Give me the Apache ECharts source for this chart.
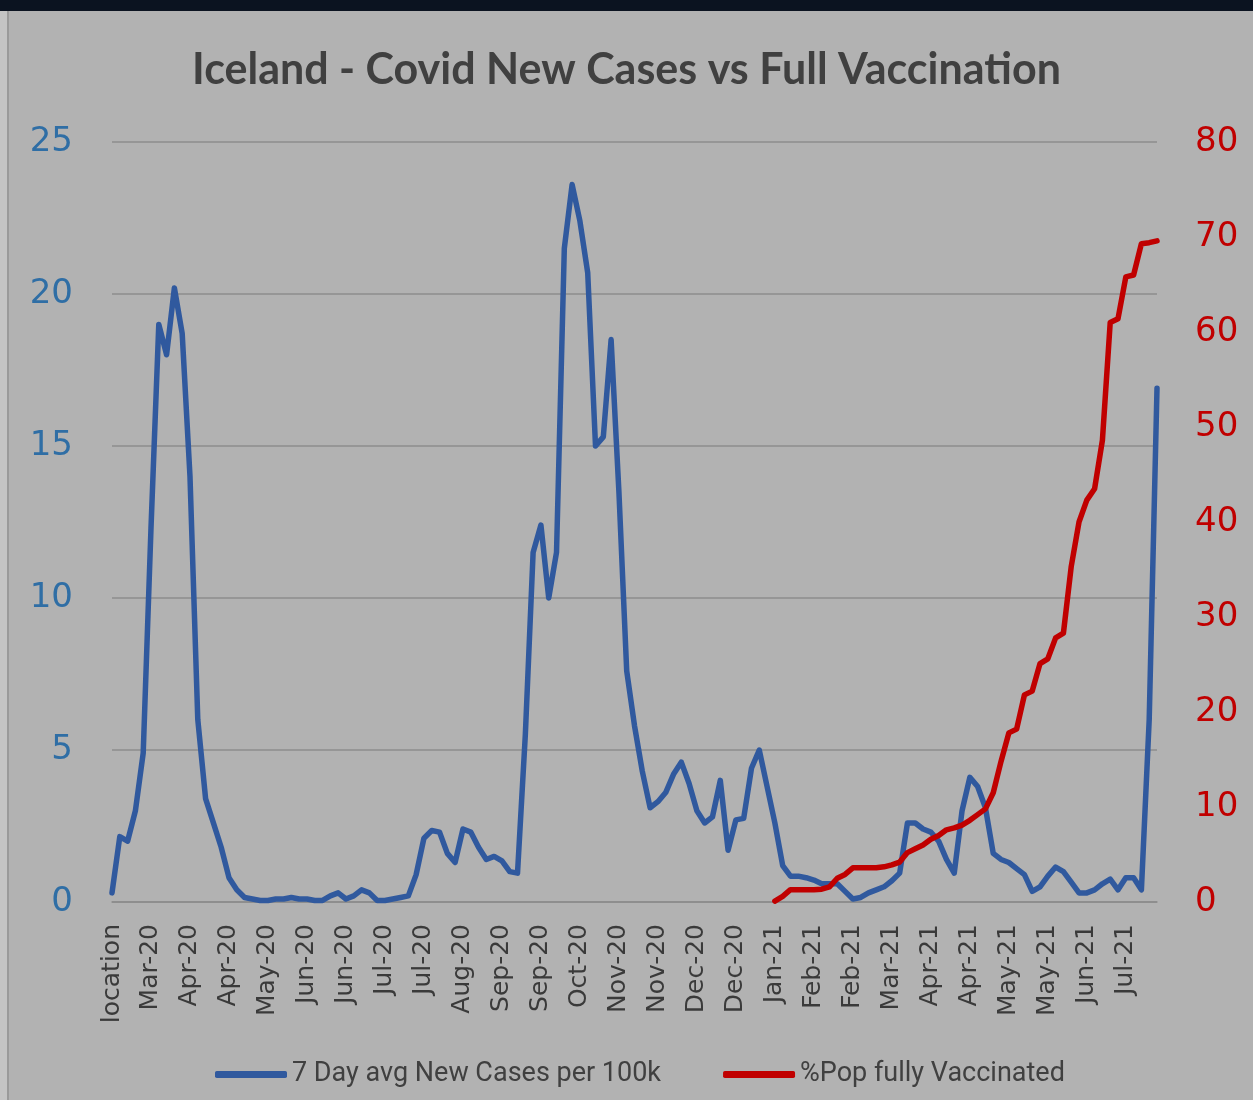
<!DOCTYPE html>
<html>
<head>
<meta charset="utf-8">
<title>Iceland - Covid New Cases vs Full Vaccination</title>
<script src="https://cdn.jsdelivr.net/npm/echarts@6/dist/echarts.min.js"></script>
<style>
  html, body { margin: 0; padding: 0; }
  body { width: 1253px; height: 1100px; background: #b2b2b2; position: relative; overflow: hidden; }
  .topband { position: absolute; left: 0; top: 0; width: 1253px; height: 11px; background: #0b1320; }
  .leftedge { position: absolute; left: 0; top: 11px; width: 7px; height: 1089px; background: #c4c4c4; border-right: 2px solid #9a9a9a; }
  #chart { position: absolute; left: 0; top: 0; width: 1253px; height: 1100px; }
</style>
</head>
<body>
<div class="topband"></div>
<div class="leftedge"></div>
<div id="chart"></div>
<script>
// every 5th category carries a shown label
const tickLabels = ['location', 'Mar-20', 'Apr-20', 'Apr-20', 'May-20', 'Jun-20', 'Jun-20', 'Jul-20', 'Jul-20',
  'Aug-20', 'Sep-20', 'Sep-20', 'Oct-20', 'Nov-20', 'Nov-20', 'Dec-20', 'Dec-20', 'Jan-21', 'Feb-21',
  'Feb-21', 'Mar-21', 'Apr-21', 'Apr-21', 'May-21', 'May-21', 'Jun-21', 'Jul-21']
const pointsPerLabel = 5

// 7 day avg new cases per 100k (left axis)
const newCases = [
  0.3, 2.15, 2.0, 3.0, 4.9, 12.3, 19.0, 18.0, 20.2, 18.7,
  14.0, 6.0, 3.4, 2.6, 1.8, 0.8, 0.4, 0.15, 0.1, 0.05,
  0.05, 0.1, 0.1, 0.15, 0.1, 0.1, 0.05, 0.05, 0.2, 0.3,
  0.1, 0.2, 0.4, 0.3, 0.05, 0.05, 0.1, 0.15, 0.2, 0.9,
  2.1, 2.35, 2.3, 1.6, 1.3, 2.4, 2.3, 1.8, 1.4, 1.5,
  1.35, 1.0, 0.95, 5.5, 11.5, 12.4, 10.0, 11.5, 21.5, 23.6,
  22.4, 20.7, 15.0, 15.3, 18.5, 13.5, 7.6, 5.8, 4.3, 3.1,
  3.3, 3.6, 4.2, 4.6, 3.9, 3.0, 2.6, 2.8, 4.0, 1.7,
  2.7, 2.75, 4.4, 5.0, 3.8, 2.6, 1.2, 0.85, 0.85, 0.8,
  0.72, 0.6, 0.6, 0.6, 0.35, 0.1, 0.15, 0.3, 0.4, 0.5,
  0.7, 0.95, 2.6, 2.6, 2.4, 2.3, 2.0, 1.4, 0.95, 3.0,
  4.1, 3.8, 3.1, 1.6, 1.4, 1.3, 1.1, 0.9, 0.35, 0.5,
  0.85, 1.15, 1.0, 0.65, 0.3, 0.3, 0.4, 0.6, 0.75, 0.4,
  0.8, 0.8, 0.4, 6.0, 16.9
]

// % population fully vaccinated (right axis), starts at category 85
const vaccStart = 85
const vaccinated = [
  0.1, 0.6, 1.3, 1.3, 1.3, 1.3, 1.35, 1.6, 2.5, 2.9,
  3.6, 3.6, 3.6, 3.6, 3.7, 3.9, 4.2, 5.2, 5.6, 6.0,
  6.6, 7.0, 7.6, 7.8, 8.1, 8.6, 9.2, 9.8, 11.5, 14.8,
  17.8, 18.2, 21.8, 22.2, 25.1, 25.6, 27.8, 28.3, 35.3, 40.0,
  42.3, 43.5, 48.6, 61.0, 61.4, 65.8, 66.0, 69.3, 69.4, 69.6
]

const categories = newCases.map((v, i) => tickLabels[Math.floor(i / pointsPerLabel)])
const vaccSeries = newCases.map((v, i) => (i < vaccStart ? null : vaccinated[i - vaccStart]))

const myChart = echarts.init(document.getElementById('chart'))
const option = {
  animation: false,
  title: {
    text: 'Iceland - Covid New Cases vs Full Vaccination',
    left: 'center',
    top: 44,
    textStyle: {
      fontFamily: 'Lato',
      fontWeight: 'bold',
      fontSize: 43,
      color: '#404040',
    },
  },
  legend: {
    left: 210,
    top: 1056,
    icon: 'roundRect',
    itemWidth: 72,
    itemHeight: 7,
    itemGap: 62,
    data: ['7 Day avg New Cases per 100k', '%Pop fully Vaccinated'],
    textStyle: {
      fontFamily: 'Roboto',
      fontSize: 27,
      color: '#404040',
    },
  },
  grid: {
    left: 112,
    right: 96,
    top: 142,
    bottom: 198,
  },
  xAxis: {
    type: 'category',
    boundaryGap: false,
    data: categories,
    axisLine: {
      lineStyle: { color: '#8c8c8c', width: 1.5 },
    },
    axisTick: { show: false },
    axisLabel: {
      interval: pointsPerLabel - 1,
      rotate: 90,
      margin: 22,
      fontFamily: 'DejaVu Sans',
      fontSize: 25,
      color: '#3a3a3a',
    },
  },
  yAxis: [
    {
      type: 'value',
      position: 'left',
      min: 0,
      max: 25,
      interval: 5,
      axisLine: { show: false },
      axisTick: { show: false },
      axisLabel: {
        margin: 39,
        fontFamily: 'DejaVu Sans',
        fontSize: 34,
        color: '#2f6ea5',
      },
      splitLine: {
        lineStyle: { color: '#8c8c8c', width: 1.5 },
      },
    },
    {
      type: 'value',
      position: 'right',
      min: 0,
      max: 80,
      interval: 10,
      axisLine: { show: false },
      axisTick: { show: false },
      axisLabel: {
        margin: 38,
        fontFamily: 'DejaVu Sans',
        fontSize: 34,
        color: '#c00000',
      },
      splitLine: { show: false },
    },
  ],
  series: [
    {
      name: '7 Day avg New Cases per 100k',
      type: 'line',
      yAxisIndex: 0,
      symbol: 'none',
      color: '#30599e',
      lineStyle: { width: 5.5, color: '#30599e', cap: 'round', join: 'round' },
      data: newCases,
    },
    {
      name: '%Pop fully Vaccinated',
      type: 'line',
      yAxisIndex: 1,
      symbol: 'none',
      color: '#c00000',
      lineStyle: { width: 5.5, color: '#c00000', cap: 'round', join: 'round' },
      data: vaccSeries,
    },
  ],
}
myChart.setOption(option)
</script>
</body>
</html>
